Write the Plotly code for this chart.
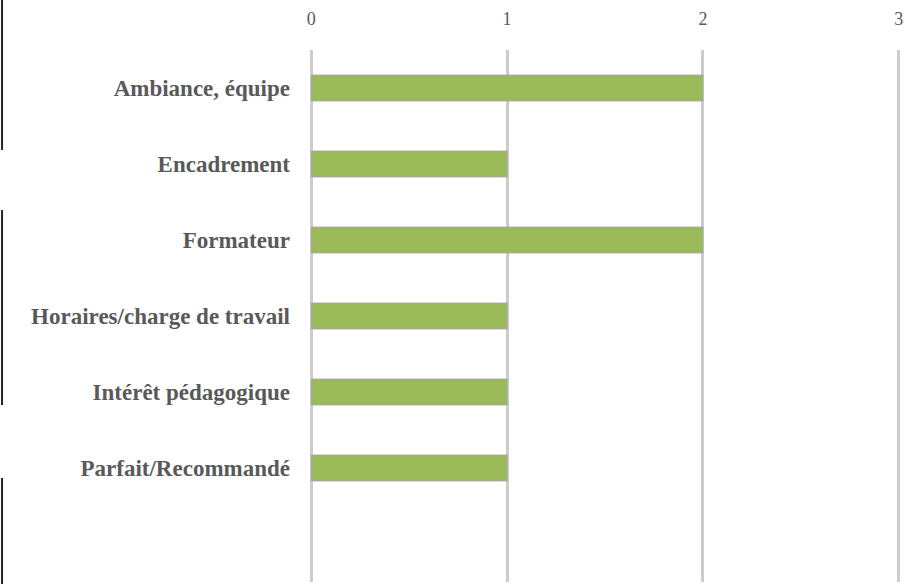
import plotly.graph_objects as go

categories = [
    "Ambiance, équipe",
    "Encadrement",
    "Formateur",
    "Horaires/charge de travail",
    "Intérêt pédagogique",
    "Parfait/Recommandé",
]
counts = [2, 1, 2, 1, 1, 1]
x_ticks = [0, 1, 2, 3]

W, H = 905, 584
X_PAD = 0.012                    # small padding so the edge gridlines are not clipped
ML, MR, MT, MB = 309, 2, 50, 2
plot_w = W - ML - MR

fig = go.Figure()
fig.add_trace(go.Bar(
    x=counts,
    y=categories,
    orientation="h",
    width=0.34,
    marker=dict(color="#9BBB59", line=dict(color="#a6a6a6", width=1)),
    hoverinfo="x+y",
))

# thin dark border fragments along the left edge of the page
def px_to_paper(px):
    return (px - ML) / plot_w

segments = [(0, 150), (210, 405), (478, 584)]
shapes = []
for y0, y1 in segments:
    shapes.append(dict(
        type="line", xref="paper", yref="paper",
        x0=px_to_paper(1), x1=px_to_paper(1),
        y0=1 - (y0 - MT) / (H - MT - MB), y1=1 - (y1 - MT) / (H - MT - MB),
        line=dict(color="#222222", width=2),
    ))

fig.update_layout(
    width=W, height=H,
    margin=dict(l=ML, r=MR, t=MT, b=MB),
    plot_bgcolor="white", paper_bgcolor="white",
    showlegend=False,
    shapes=shapes,
    xaxis=dict(
        side="top",
        range=[-X_PAD, x_ticks[-1] + X_PAD],
        tickvals=x_ticks,
        ticktext=[str(v) for v in x_ticks],
        showgrid=True, gridcolor="#cccccc", gridwidth=3,
        zeroline=False, showline=False, ticks="",
        ticklabelstandoff=20,
        ticklabeloverflow="allow",
        tickfont=dict(family="Liberation Serif", size=18, color="#595959"),
    ),
    yaxis=dict(
        type="category",
        categoryorder="array", categoryarray=categories,
        range=[6.5, -0.5],
        showgrid=False, zeroline=False, showline=False, ticks="",
        ticklabelstandoff=18,
        tickfont=dict(family="Liberation Serif", size=23, color="#595959", weight="bold"),
    ),
)

fig.write_html("out.html")
